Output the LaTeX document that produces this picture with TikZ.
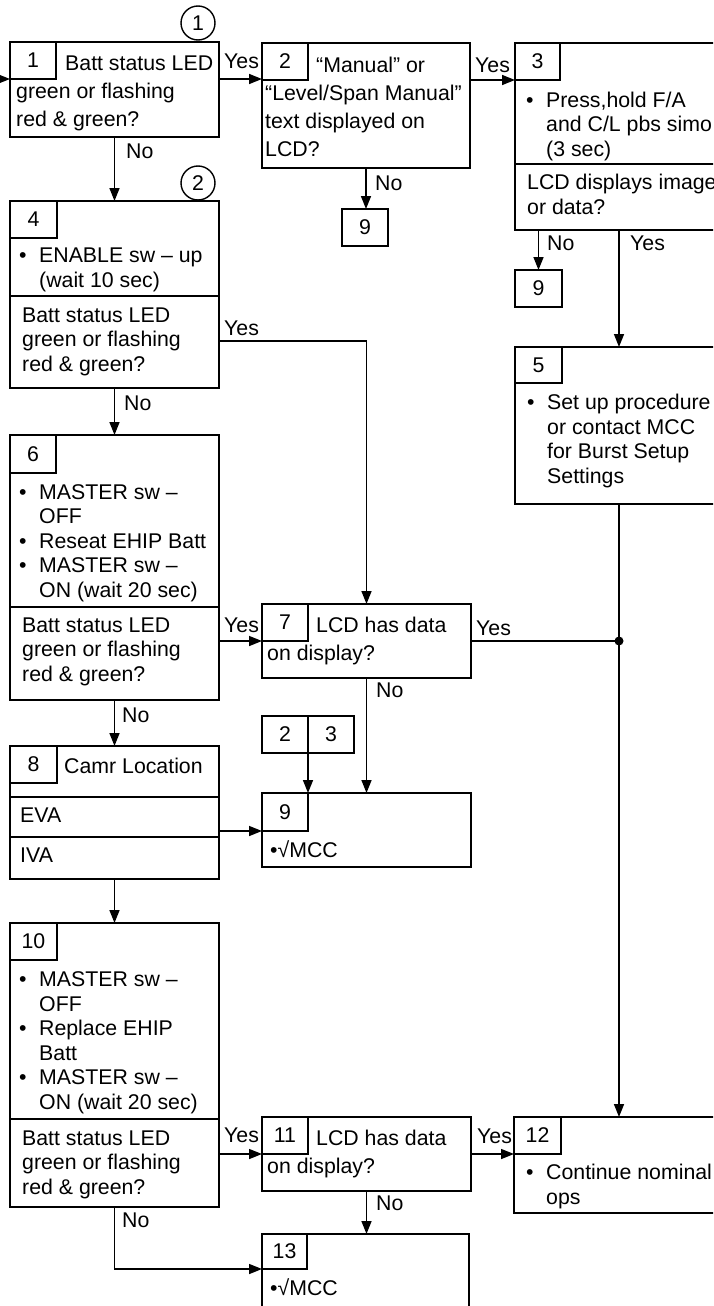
\documentclass[tikz,border=0pt]{standalone}
\usepackage{fontspec}
\setmainfont{Liberation Sans}
\usetikzlibrary{arrows.meta}
\newcommand{\stepfont}{\fontsize{21.3}{24.5}\selectfont}
\newcommand{\wrapfont}{\fontsize{21.3}{28}\selectfont}
\newcommand{\stepbullet}{\makebox[20pt][l]{•}}
\newcommand{\stepindent}{\hspace*{20pt}}
\tikzset{
  stepbox/.style n args={2}{draw,line width=2.8pt,outer sep=0pt,inner sep=0pt,
    minimum width=#1,minimum height=#2,anchor=north west},
  numcell/.style={draw,line width=1.6pt,outer sep=0pt,inner sep=0pt,
    minimum width=46pt,minimum height=37pt,anchor=north west,font=\stepfont},
  steptext/.style={inner sep=0pt,anchor=base west,align=left,font=\stepfont},
  wraptext/.style={steptext,font=\wrapfont},
  branchlabel/.style={inner sep=0pt,anchor=base west,font=\stepfont},
  pagemark/.style={draw,circle,line width=1.4pt,minimum size=34pt,inner sep=0pt,font=\stepfont},
  flowarrow/.style={-{Triangle[length=13pt,width=10pt]},line width=1.5pt},
  flowline/.style={line width=1.5pt},
  divider/.style={line width=1.6pt}
}
\begin{document}
\begin{tikzpicture}[x=1pt,y=-1pt]
  \useasboundingbox[fill=white] (0,0) rectangle (713,1306);
  \clip (0,0) rectangle (713,1306);
  \node[pagemark] (m1) at (198,23) {1};
  \node[pagemark] (m2) at (198,183) {2};
  \node[stepbox={209}{95}] (b1) at (10,42) {};
  \node[numcell] (n1) at (b1.north west) {1};
  \node[wraptext] (t1) at (16,126) {\hspace*{49pt}Batt status LED\\green or flashing\\red \& green?};
  \node[stepbox={208}{125}] (b2) at (262,43) {};
  \node[numcell] (n2) at (b2.north west) {2};
  \node[wraptext] (t2) at (265,156) {\hspace*{51pt}“Manual” or\\“Level/Span Manual”\\text displayed on\\LCD?};
  \node[stepbox={230}{187}] (b3) at (515,43) {};
  \node[numcell,minimum width=45pt] (n3) at (b3.north west) {3};
  \node[steptext] (t3) at (526,156) {\stepbullet Press,hold F/A\\\stepindent and C/L pbs simo\\\stepindent (3 sec)};
  \draw[divider] (b3.west |- 0,164) -- (b3.east |- 0,164);
  \node[steptext] (q3) at (527,214) {LCD displays image\\or data?};
  \node[numcell] (g9a) at (342,209) {9};
  \node[numcell,minimum width=47pt] (g9b) at (515,270) {9};
  \node[stepbox={209}{187}] (b4) at (10,201) {};
  \node[numcell,minimum width=47pt] (n4) at (b4.north west) {4};
  \node[steptext] (t4) at (19,287) {\stepbullet ENABLE sw – up\\\stepindent (wait 10 sec)};
  \draw[divider] (b4.west |- 0,296) -- (b4.east |- 0,296);
  \node[steptext] (q4) at (22,371) {Batt status LED\\green or flashing\\red \& green?};
  \node[stepbox={230}{157}] (b5) at (515,347) {};
  \node[numcell,minimum width=47pt,minimum height=36pt] (n5) at (b5.north west) {5};
  \node[steptext] (t5) at (527,483) {\stepbullet Set up procedure\\\stepindent or contact MCC\\\stepindent for Burst Setup\\\stepindent Settings};
  \node[stepbox={209}{265}] (b6) at (10,435) {};
  \node[numcell,minimum height=38pt] (n6) at (b6.north west) {6};
  \node[steptext] (t6) at (19,597) {\stepbullet MASTER sw –\\\stepindent OFF\\\stepbullet Reseat EHIP Batt\\\stepbullet MASTER sw –\\\stepindent ON (wait 20 sec)};
  \draw[divider] (b6.west |- 0,607) -- (b6.east |- 0,607);
  \node[steptext] (q6) at (22,681) {Batt status LED\\green or flashing\\red \& green?};
  \node[stepbox={209}{74}] (b7) at (262,604) {};
  \node[numcell] (n7) at (b7.north west) {7};
  \node[wraptext] (t7) at (267,660) {\hspace*{49pt}LCD has data\\on display?};
  \node[numcell] (r2) at (262,716) {2};
  \node[numcell] (r3) at (r2.north east) {3};
  \node[stepbox={209}{133}] (b8) at (10,746) {};
  \node[numcell,minimum width=47pt] (n8) at (b8.north west) {8};
  \node[steptext] (t8) at (64,773) {Camr Location};
  \draw[divider] (b8.west |- 0,797) -- (b8.east |- 0,797);
  \node[steptext] (eva) at (20,822) {EVA};
  \draw[divider] (b8.west |- 0,837) -- (b8.east |- 0,837);
  \node[steptext] (iva) at (20,862) {IVA};
  \node[stepbox={209}{74}] (b9) at (262,793) {};
  \node[numcell,minimum height=38pt] (n9) at (b9.north west) {9};
  \node[steptext] (t9) at (270,857) {•√MCC};
  \node[stepbox={209}{284}] (b10) at (10,923) {};
  \node[numcell,minimum width=47pt] (n10) at (b10.north west) {10};
  \node[steptext] (t10) at (19,1109) {\stepbullet MASTER sw –\\\stepindent OFF\\\stepbullet Replace EHIP\\\stepindent Batt\\\stepbullet MASTER sw –\\\stepindent ON (wait 20 sec)};
  \draw[divider] (b10.west |- 0,1119) -- (b10.east |- 0,1119);
  \node[steptext] (q10) at (22,1194) {Batt status LED\\green or flashing\\red \& green?};
  \node[stepbox={209}{74}] (b11) at (262,1117) {};
  \node[numcell] (n11) at (b11.north west) {11};
  \node[wraptext] (t11) at (267,1173) {\hspace*{49pt}LCD has data\\on display?};
  \node[stepbox={230}{96}] (b12) at (514,1117) {};
  \node[numcell,minimum width=47pt] (n12) at (b12.north west) {12};
  \node[steptext] (t12) at (526,1204) {\stepbullet Continue nominal\\\stepindent ops};
  \node[stepbox={207}{100}] (b13) at (262,1234) {};
  \node[numcell,minimum width=45pt,minimum height=35pt] (n13) at (b13.north west) {13};
  \node[steptext] (t13) at (270,1295) {•√MCC};
  \coordinate (entry) at (-2,0);
  \coordinate (rail) at (619,0);
  \coordinate (join) at (rail |- n7.south west);
  \draw[flowarrow] (entry |- n1.south west) -- (n1.south west);
  \draw[flowarrow] (b1.east |- n1.south west) -- (b2.west |- n1.south west);
  \draw[flowarrow] (b2.east |- n3.south west) -- (n3.south west);
  \draw[flowarrow] (b1.south) -- (b4.north);
  \draw[flowarrow] (b2.south) -- (b2.south |- g9a.north);
  \draw[flowarrow] (g9b.north |- b3.south) -- (g9b.north);
  \draw[flowarrow] (b3.south -| rail) -- (b5.north -| rail);
  \draw[flowarrow] ([yshift=47pt]b4.south east) -| (b7.north);
  \draw[flowarrow] (b4.south) -- (b6.north);
  \draw[flowarrow] (b6.east |- n7.south west) -- (n7.south west);
  \draw[flowline] (b7.east |- join) -- (join);
  \fill (join) circle (4.5pt);
  \draw[flowarrow] (b5.south -| rail) -- (b12.north -| rail);
  \draw[flowarrow] (b7.south) -- (b9.north);
  \draw[flowarrow] (r2.south east) -- (r2.south east |- b9.north);
  \draw[flowarrow] (b6.south) -- (b8.north);
  \draw[flowarrow] (b8.east |- n9.south west) -- (n9.south west);
  \draw[flowarrow] (b8.south) -- (b10.north);
  \draw[flowarrow] (b10.east |- n11.south west) -- (n11.south west);
  \draw[flowarrow] (b11.east |- n12.south west) -- (n12.south west);
  \draw[flowarrow] (b11.south) -- (b11.south |- b13.north);
  \draw[flowarrow] (b10.south) |- (n13.south west);
  \node[branchlabel] (y1) at (224,69) {Yes};
  \node[branchlabel] (y2) at (475,72) {Yes};
  \node[branchlabel] (no1) at (126,158) {No};
  \node[branchlabel] (no2) at (375,190) {No};
  \node[branchlabel] (no3) at (547,250) {No};
  \node[branchlabel] (y3) at (630,250) {Yes};
  \node[branchlabel] (y4) at (224,335) {Yes};
  \node[branchlabel] (no4) at (124,410) {No};
  \node[branchlabel] (y6) at (224,632) {Yes};
  \node[branchlabel] (no6) at (122,722) {No};
  \node[branchlabel] (y7) at (476,635) {Yes};
  \node[branchlabel] (no7) at (376,697) {No};
  \node[branchlabel] (y10) at (224,1142) {Yes};
  \node[branchlabel] (no10) at (122,1227) {No};
  \node[branchlabel] (y11) at (477,1143) {Yes};
  \node[branchlabel] (no11) at (376,1210) {No};
\end{tikzpicture}
\end{document}
